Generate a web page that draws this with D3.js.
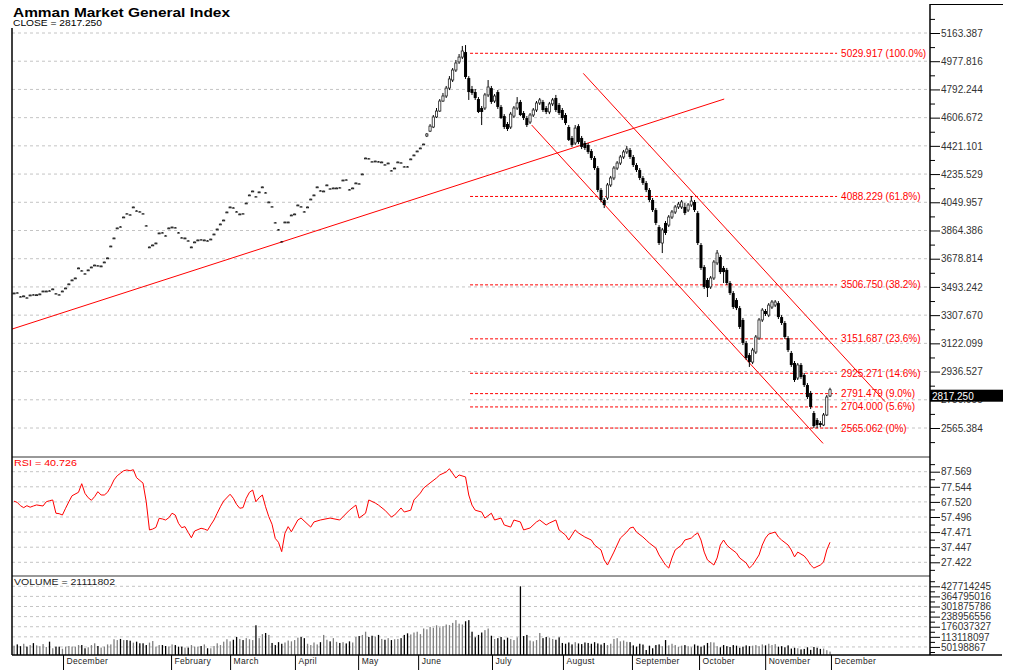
<!DOCTYPE html>
<html>
<head>
<meta charset="utf-8">
<script src="https://cdn.jsdelivr.net/npm/d3@7"></script>
<style>
  body { margin: 0; background: #fff; }
  text { font-family: "Liberation Sans", Arial, sans-serif; }
</style>
</head>
<body>
<svg id="chart" width="1015" height="670"></svg>
<script>
// daily bars
const open = [3450,3456,3430,3431,3423,3437,3443,3439,3444,3463,3463,3469,3477,3450,3443,3463,3483,3510,3536,3549,
  3615,3601,3581,3602,3621,3634,3634,3628,3654,3681,3759,3812,3878,3890,3950,3976,3969,4016,3995,3989,
  3976,3897,3753,3766,3779,3845,3851,3831,3878,3884,3884,3851,3818,3812,3798,3753,3786,3799,3805,3799,
  3798,3805,3838,3871,3904,3930,3983,4016,4015,3989,3970,3976,4042,4095,4121,4088,4115,4148,4114,4049,
  4022,3917,3871,3792,3917,3917,3963,3970,4029,4022,3989,4016,4068,4095,4148,4127,4121,4161,4140,4141,
  4141,4147,4193,4199,4134,4141,4174,4173,4233,4338,4338,4318,4318,4318,4312,4298,4305,4259,4272,4312,
  4311,4285,4285,4332,4358,4384,4404,4430,4486,4518,4545,4611,4650,4716,4749,4801,4854,4920,4973,5005,
  5038,4867,4795,4775,4729,4670,4670,4756,4801,4716,4775,4677,4617,4565,4545,4617,4670,4710,4637,4604,
  4578,4624,4657,4703,4710,4670,4644,4697,4736,4690,4657,4624,4545,4473,4440,4551,4473,4440,4427,4387,
  4341,4275,4131,4065,4078,4164,4210,4275,4308,4348,4381,4394,4348,4295,4262,4210,4177,4131,4065,3999,
  3887,3782,3914,3900,3953,3986,4019,4019,4019,3999,4032,4052,3979,3769,3624,3539,3493,3552,3651,3690,
  3618,3605,3519,3453,3407,3354,3276,3125,3045,2999,3065,3157,3276,3335,3308,3361,3374,3387,3295,3256,
  3157,3059,2993,2894,2980,2914,2848,2796,2664,2618,2598,2585,2651,2776];
const high = [3455,3458,3432,3436,3425,3442,3445,3444,3449,3468,3468,3471,3482,3452,3445,3468,3488,3515,3541,3554,
  3620,3603,3583,3607,3626,3639,3636,3633,3659,3686,3764,3817,3883,3892,3955,3978,3971,4021,3997,3991,
  3978,3899,3758,3771,3784,3850,3853,3833,3883,3889,3886,3853,3820,3817,3800,3758,3791,3804,3807,3804,
  3800,3810,3843,3876,3909,3935,3988,4021,4017,3991,3975,3978,4047,4100,4126,4090,4120,4153,4116,4054,
  4024,3919,3873,3794,3922,3922,3968,3975,4034,4024,3991,4021,4073,4100,4153,4129,4126,4166,4142,4146,
  4146,4149,4198,4201,4136,4146,4179,4175,4238,4343,4340,4320,4323,4320,4317,4300,4310,4261,4277,4317,
  4313,4287,4287,4337,4363,4389,4409,4435,4505,4564,4624,4670,4729,4769,4815,4880,4933,4986,5025,5078,
  5084,4880,4815,4795,4742,4683,4769,4854,4815,4762,4788,4690,4630,4578,4644,4683,4742,4723,4650,4617,
  4637,4670,4716,4736,4723,4683,4710,4736,4756,4703,4670,4637,4558,4486,4558,4564,4486,4453,4440,4400,
  4354,4288,4144,4078,4177,4223,4288,4321,4361,4394,4420,4407,4361,4308,4275,4223,4190,4144,4078,4012,
  3900,3881,3927,3966,3999,4032,4052,4065,4045,4045,4091,4065,3992,3782,3637,3552,3565,3670,3736,3703,
  3631,3618,3532,3466,3420,3368,3289,3138,3059,3092,3177,3289,3354,3348,3387,3407,3407,3400,3308,3269,
  3170,3072,3006,2993,2993,2927,2861,2809,2677,2631,2611,2664,2782,2830];
const low = [3448,3451,3425,3429,3418,3435,3438,3437,3442,3461,3461,3464,3475,3445,3438,3461,3481,3508,3534,3547,
  3613,3596,3576,3600,3619,3632,3629,3626,3652,3679,3757,3810,3876,3885,3948,3971,3964,4014,3990,3984,
  3971,3892,3751,3764,3777,3843,3846,3826,3876,3882,3879,3846,3813,3810,3793,3751,3784,3797,3800,3797,
  3793,3803,3836,3869,3902,3928,3981,4014,4010,3984,3968,3971,4040,4093,4119,4083,4113,4146,4109,4047,
  4017,3912,3866,3787,3915,3915,3961,3968,4027,4017,3984,4014,4066,4093,4146,4122,4119,4159,4135,4139,
  4139,4142,4191,4194,4129,4139,4172,4168,4231,4336,4333,4313,4316,4313,4310,4293,4303,4254,4270,4310,
  4306,4280,4280,4330,4356,4382,4402,4428,4479,4512,4538,4604,4644,4710,4736,4788,4841,4907,4960,4992,
  4861,4723,4756,4723,4637,4558,4657,4742,4697,4703,4664,4598,4532,4519,4532,4604,4657,4617,4591,4545,
  4565,4611,4644,4690,4644,4630,4630,4683,4644,4624,4591,4558,4453,4414,4427,4433,4400,4394,4368,4328,
  4262,4117,4052,4012,4065,4151,4196,4262,4295,4335,4368,4335,4282,4249,4196,4164,4117,4052,3986,3900,
  3769,3716,3835,3887,3940,3973,4006,4006,3966,3986,4019,3986,3769,3605,3480,3427,3480,3539,3637,3578,
  3519,3506,3440,3348,3341,3217,3111,3013,2967,2986,3052,3144,3263,3302,3295,3348,3361,3282,3243,3151,
  3065,2967,2868,2881,2888,2835,2756,2690,2565,2565,2570,2578,2644,2769];
const close = [3453,3453,3427,3434,3420,3440,3440,3442,3447,3466,3466,3466,3480,3447,3440,3466,3486,3513,3539,3552,
  3618,3598,3578,3605,3624,3637,3631,3631,3657,3684,3762,3815,3881,3887,3953,3973,3966,4019,3992,3986,
  3973,3894,3756,3769,3782,3848,3848,3828,3881,3887,3881,3848,3815,3815,3795,3756,3789,3802,3802,3802,
  3795,3808,3841,3874,3907,3933,3986,4019,4012,3986,3973,3973,4045,4098,4124,4085,4118,4151,4111,4052,
  4019,3914,3868,3789,3920,3920,3966,3973,4032,4019,3986,4019,4071,4098,4151,4124,4124,4164,4137,4144,
  4144,4144,4196,4196,4131,4144,4177,4170,4236,4341,4335,4315,4321,4315,4315,4295,4308,4256,4275,4315,
  4308,4282,4282,4335,4361,4387,4407,4433,4499,4551,4611,4650,4716,4749,4801,4861,4920,4966,5005,5045,
  4874,4775,4769,4736,4644,4644,4756,4808,4710,4749,4677,4604,4545,4532,4630,4670,4703,4624,4604,4558,
  4624,4657,4703,4723,4657,4644,4697,4723,4657,4637,4604,4571,4460,4427,4538,4446,4414,4407,4381,4341,
  4275,4131,4065,4032,4164,4210,4275,4308,4348,4381,4400,4348,4295,4262,4210,4177,4131,4065,3999,3914,
  3782,3868,3848,3953,3986,4019,4038,4052,3979,4032,4058,3999,3782,3618,3493,3486,3552,3657,3716,3591,
  3591,3519,3453,3361,3354,3230,3125,3026,2999,3078,3164,3276,3341,3315,3374,3394,3394,3295,3256,3164,
  3078,2980,2881,2980,2901,2848,2769,2704,2578,2585,2585,2651,2769,2817.25];
// volume in millions of shares
const volumeMln = [58,66,55,70,52,62,74,60,55,68,50,
  83,42,52,52,39,52,56,52,52,62,62,42,48,62,73,56,46,52,66,66,98,93,100,93,93,89,77,83,73,73,
  62,77,87,52,62,62,56,52,66,62,52,52,46,46,62,52,52,56,66,42,42,56,73,62,83,98,
  85,95,112,100,93,105,98,93,185,105,130,137,125,75,62,80,70,78,90,85,93,108,112,105,
  70,62,78,66,80,125,95,85,105,82,75,80,72,85,78,112,118,125,145,112,120,115,
  125,100,95,105,93,98,100,105,125,135,128,140,145,130,165,160,175,170,185,172,180,190,
  186,200,217,195,190,210,217,145,110,125,140,155,165,120,100,105,112,95,108,100,93,110,
  427.714245,118,125,90,85,93,137,105,112,108,100,95,110,75,70,78,66,80,72,
  68,78,75,70,80,72,65,75,62,70,100,105,85,90,82,80,60,52,70,65,31,58,42,62,66,
  55,93,60,70,62,50,58,62,55,48,66,58,52,60,75,80,78,55,48,62,55,50,62,58,45,52,60,55,
  58,62,55,66,60,70,62,68,52,55,48,60,40,45,42,35,38,48,32,50,45,38,40,30,21.111802];

// RSI readings: bar index and value
const rsiIdx = [0,1,2,3,4,5,6,7,9,10,11,12,13,14,15,16,17,18,20,21,22,23,24,25,26,27,28,29,30,31,32,33,34,35,36,37,38,40,41,42,
  43,44,45,46,47,48,49,50,51,52,53,54,55,56,58,59,60,61,62,63,64,65,67,68,69,70,71,72,73,74,75,76,77,78,79,80,81,82,83,84,85,86,88,89,
  92,93,95,98,101,104,106,107,109,110,112,113,115,117,118,120,121,123,124,126,127,129,131,132,134,135,137,138,140,141,142,143,145,146,148,149,
  151,152,154,155,157,158,160,162,163,165,166,168,169,171,172,174,175,177,179,180,182,183,184,186,187,188,190,191,192,193,195,196,197,199,200,
  202,203,204,205,207,208,210,211,212,213,214,215,217,218,219,220,221,222,224,225,227,228,229,231,232,233,234,236,237,238,240,241,242,243,245,
  246,247,248,250,251,252,253];
const rsiVal = [68,67.2,65,63.7,65,64,64.8,65.5,64.8,67.6,68.3,68.8,60,59.7,58.8,63.3,67.6,71.6,73.9,79.6,73.2,70.3,68.6,71,74.3,72.1,72.1,73.9,77.6,82.1,84.9,86.5,88.2,88.7,88.2,88.9,83.6,80,67.6,48.9,
  49.5,50.6,56.6,56.2,55.5,57,60,58.8,53.3,50.4,51.1,47.3,43.7,48.2,50,49.5,48.6,52.2,55.5,60,64.3,68.1,72.6,69.9,65.9,63.3,63.7,69.9,73.9,75.4,67.6,70.3,72.1,64.3,57.7,52.7,43.3,40.7,34.5,46.7,51.1,47.7,55.5,56.8,
  50.8,54.2,55.5,56.8,55.5,62,65.4,56.8,60,68.8,66.8,65.4,62,57.5,58.8,63.5,60.8,62,68.8,73.4,76.7,80.1,83.4,85.4,87.4,89.5,83.4,85.4,84.1,72.1,65.4,62,60.8,56.8,60,55.5,
  56.8,52.2,50.8,55.5,54.2,48.9,50.2,54.2,55.5,52.2,53.5,55.5,48.9,45.5,42.2,48.9,46.9,44.2,42.2,38.9,35.6,29,25.6,34.2,38.9,43.5,47.5,50.2,50.8,47.5,44.2,42.2,40.2,36.9,32.3,
  25.6,23.6,30.3,35.6,38.9,42.2,43.5,45.5,46.9,42.2,34.2,29,25.6,30.3,38.9,42.2,38.9,36.9,33.6,30.3,27,23.6,25.6,32.3,38.9,43.5,46.2,47.5,44.2,42.2,38.9,35.6,31,34.2,31.6,
  29,25.6,23.6,25.6,27.6,35.6,40.726];

// axis tick labels
const priceTicks = [5163.387,4977.816,4792.244,4606.672,4421.101,4235.529,4049.957,3864.386,3678.814,3493.242,3307.670,3122.099,2936.527,2750.955,2565.384];
const rsiTicks = [87.569,77.544,67.520,57.496,47.471,37.447,27.422];
const volTicks = [427.714245,364.795016,301.875786,238.956556,176.037327,113.118097,50.198867];
const monthNames = ['December','February','March','April','May','June','July','August','September','October','November','December'];
const monthIdx = [15.2,48.7,67,87.1,106.7,125.3,148.2,170.2,191.6,212.4,232.9,253.3];

// fibonacci retracement levels
const fibLevels = [5029.917,4088.229,3506.750,3151.687,2925.271,2791.479,2704.000,2565.062];
const fibPct = ['100.0%','61.8%','38.2%','23.6%','14.6%','9.0%','5.6%','0%'];
const fibFrom = 141.4, fibTo = 255.2;

// trend lines: [startIdx, startVal, endIdx, endVal]
const trendLines = [[-0.93,3216,220.2,4729],[160.5,4558,250.85,2464],[176.5,4898,270.1,2738]];

const LEFT = 12, RIGHT = 930;
const svg = d3.select('#chart');

const x = d3.scaleLinear().domain([0, close.length - 1]).range([14, 830]);
const yP = d3.scaleLinear().domain([2565.384, 5163.387]).range([428, 33]);
const yR = d3.scaleLinear().domain([27.422, 87.569]).range([562.3, 471.7]);
const yV = d3.scaleLinear().domain([0, 427.714245]).range([655, 586.3]);

function mids(t) {
  const step = t[0] - t[1];
  return d3.pairs(t).map(([a, b]) => (a + b) / 2).concat([t[0] + step / 2, t[t.length - 1] - step / 2]);
}

// gridlines
function grid(ticks, y) {
  svg.append('g').selectAll('line').data(ticks).join('line')
    .attr('x1', LEFT).attr('x2', RIGHT)
    .attr('y1', d => y(d)).attr('y2', d => y(d))
    .attr('stroke', '#c4c4c4').attr('stroke-dasharray', '3,3');
}
grid(priceTicks, yP);
grid(rsiTicks, yR);
grid(volTicks, yV);

// fibonacci lines
const fib = svg.append('g');
fib.selectAll('line').data(fibLevels).join('line')
  .attr('x1', x(fibFrom)).attr('x2', x(fibTo))
  .attr('y1', d => yP(d)).attr('y2', d => yP(d))
  .attr('stroke', '#f00').attr('stroke-dasharray', '3,2');
fib.selectAll('text').data(fibLevels).join('text')
  .attr('x', x(fibTo) + 4).attr('y', d => yP(d) + 3.5)
  .attr('font-size', 10).attr('fill', '#f00')
  .text((d, i) => `${d.toFixed(3)} (${fibPct[i]})`);

// trend lines
svg.append('g').selectAll('line').data(trendLines).join('line')
  .attr('x1', d => Math.max(LEFT, x(d[0]))).attr('y1', d => yP(d[1]))
  .attr('x2', d => x(d[2])).attr('y2', d => yP(d[3]))
  .attr('stroke', '#f00').attr('stroke-width', 1);

// candles
const bars = d3.range(close.length);
const up = i => close[i] >= open[i];
const gC = svg.append('g');
gC.selectAll('line').data(bars).join('line')
  .attr('x1', i => x(i)).attr('x2', i => x(i))
  .attr('y1', i => yP(high[i])).attr('y2', i => yP(low[i]))
  .attr('stroke', '#000');
gC.selectAll('rect').data(bars).join('rect')
  .attr('x', i => up(i) ? x(i) - 1.1 : x(i) - 1.5)
  .attr('width', i => up(i) ? 2.2 : 3)
  .attr('y', i => yP(Math.max(open[i], close[i])))
  .attr('height', i => Math.max(Math.abs(yP(open[i]) - yP(close[i])), 0.9))
  .attr('fill', i => up(i) ? '#fff' : '#000')
  .attr('stroke', i => up(i) ? '#222' : 'none')
  .attr('stroke-width', 0.8);

// RSI
svg.append('path')
  .datum(rsiIdx.map((d, i) => [d, rsiVal[i]]))
  .attr('fill', 'none').attr('stroke', '#f00').attr('stroke-width', 1)
  .attr('d', d3.line().x(d => x(d[0])).y(d => yR(d[1])));

// volume
svg.append('g').selectAll('rect').data(bars).join('rect')
  .attr('x', i => x(i) - 0.6).attr('width', 1.3)
  .attr('y', i => yV(volumeMln[i]))
  .attr('height', i => yV(0) - yV(volumeMln[i]))
  .attr('fill', i => up(i) ? '#808080' : '#000');

// frame
svg.append('line').attr('x1', LEFT).attr('x2', RIGHT).attr('y1', 457).attr('y2', 457).attr('stroke', '#333');
svg.append('line').attr('x1', LEFT).attr('x2', RIGHT).attr('y1', 576).attr('y2', 576).attr('stroke', '#999').attr('stroke-width', 2);
svg.append('line').attr('x1', LEFT).attr('x2', LEFT).attr('y1', 28).attr('y2', 655).attr('stroke', '#000').attr('stroke-width', 1.5);
svg.append('line').attr('x1', RIGHT).attr('x2', RIGHT).attr('y1', 4).attr('y2', 655).attr('stroke', '#000').attr('stroke-width', 1.5);
svg.append('line').attr('x1', RIGHT).attr('x2', 1003).attr('y1', 4.5).attr('y2', 4.5).attr('stroke', '#000');
svg.append('line').attr('x1', LEFT).attr('x2', 1002).attr('y1', 655).attr('y2', 655).attr('stroke', '#000').attr('stroke-width', 1.5);

// right axes
function rightAxis(y, ticks, fmt) {
  const g = svg.append('g').attr('transform', `translate(${RIGHT},0)`);
  g.call(d3.axisRight(y).tickValues(ticks).tickSize(10).tickPadding(1).tickFormat(fmt));
  g.select('.domain').remove();
  g.selectAll('text').attr('font-size', 10).attr('fill', '#333').attr('font-family', '"Liberation Sans", Arial, sans-serif');
  const m = svg.append('g').attr('transform', `translate(${RIGHT},0)`);
  m.call(d3.axisRight(y).tickValues(mids(ticks)).tickSize(5).tickFormat(''));
  m.select('.domain').remove();
}
rightAxis(yP, priceTicks, d => d.toFixed(3));
rightAxis(yR, rsiTicks, d => d.toFixed(3));
rightAxis(yV, volTicks, d => String(Math.round(d * 1e6)));

// last close marker
const last = close[close.length - 1];
svg.append('rect').attr('x', RIGHT).attr('y', yP(last)).attr('width', 73).attr('height', 12).attr('fill', '#000');
svg.append('text').attr('x', RIGHT + 2).attr('y', yP(last) + 10).attr('font-size', 10).attr('fill', '#fff').text(last.toFixed(3));

// month axis
const gx = svg.append('g').attr('transform', 'translate(0,655)');
gx.call(d3.axisBottom(x).tickValues(monthIdx).tickSize(15).tickFormat((d, i) => monthNames[i]));
gx.select('.domain').remove();
gx.selectAll('text').attr('x', 3).attr('y', 3).attr('dy', '0.71em').style('text-anchor', 'start')
  .attr('font-size', 8.5).attr('fill', '#222').attr('letter-spacing', 0.3)
  .attr('font-family', '"Liberation Sans", Arial, sans-serif');

// titles
svg.append('text').attr('x', 13).attr('y', 17).attr('font-size', 13).attr('font-weight', 'bold')
  .attr('textLength', 217).attr('lengthAdjust', 'spacingAndGlyphs').text('Amman Market General Index');
svg.append('text').attr('x', 13).attr('y', 26).attr('font-size', 8.5)
  .attr('textLength', 89).attr('lengthAdjust', 'spacingAndGlyphs').text('CLOSE = ' + last.toFixed(3));
svg.append('text').attr('x', 14).attr('y', 466).attr('font-size', 9).attr('fill', '#f00')
  .attr('textLength', 63).attr('lengthAdjust', 'spacingAndGlyphs').text('RSI = ' + rsiVal[rsiVal.length - 1].toFixed(3));
svg.append('text').attr('x', 14).attr('y', 585).attr('font-size', 9).attr('fill', '#222')
  .attr('textLength', 101).attr('lengthAdjust', 'spacingAndGlyphs').text('VOLUME = ' + Math.round(volumeMln[volumeMln.length - 1] * 1e6));
</script>
</body>
</html>
